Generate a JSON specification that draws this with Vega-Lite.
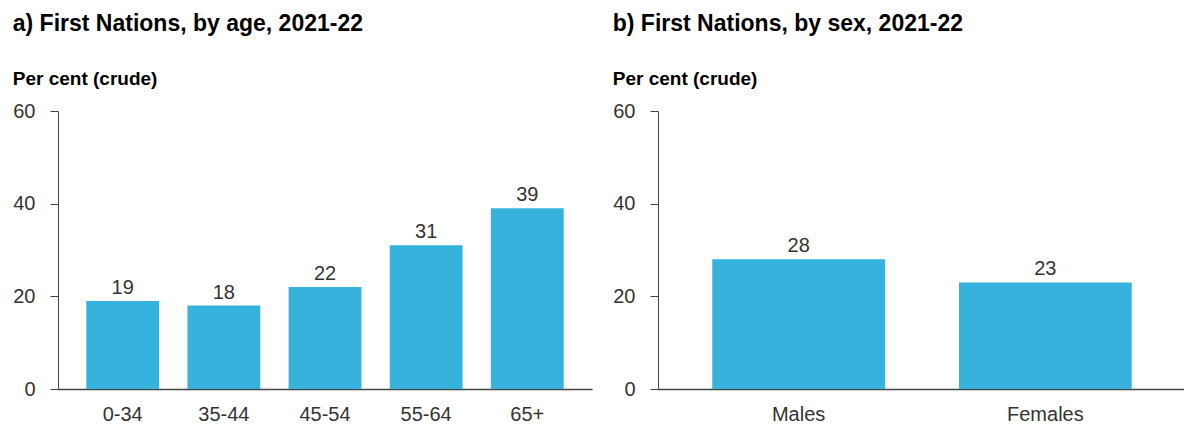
{
  "$schema": "https://vega.github.io/schema/vega-lite/v6.json",
  "background": "white",
  "padding": {"left": 12, "top": 13, "right": 0, "bottom": 0},
  "spacing": 20,
  "config": {
    "font": "Liberation Sans",
    "view": {"stroke": null},
    "axis": {"labelFont": "Liberation Sans", "labelFontSize": 20, "labelColor": "#333333", "domainColor": "#444444", "tickColor": "#444444", "grid": false, "title": null},
    "title": {"font": "Liberation Sans", "fontSize": 23, "fontWeight": "bold", "color": "#000000", "anchor": "start", "frame": "bounds", "subtitleFont": "Liberation Sans", "subtitleFontSize": 19, "subtitleFontWeight": "bold", "subtitleColor": "#000000", "subtitlePadding": 34, "offset": 12}
  },
  "datasets": {
    "age": [
      {"group": "0-34", "value": 19},
      {"group": "35-44", "value": 18},
      {"group": "45-54", "value": 22},
      {"group": "55-64", "value": 31},
      {"group": "65+", "value": 39}
    ],
    "sex": [
      {"group": "Males", "value": 28},
      {"group": "Females", "value": 23}
    ]
  },
  "hconcat": [
    {
      "title": {"text": "a) First Nations, by age, 2021-22", "subtitle": "Per cent (crude)"},
      "width": 534,
      "height": 278,
      "data": {"name": "age"},
      "encoding": {
        "x": {"field": "group", "type": "nominal", "sort": null, "scale": {"paddingInner": 0.28, "paddingOuter": 0.28}, "axis": {"labelAngle": 0, "ticks": false, "labelPadding": 15, "domainWidth": 1.5}},
        "y": {"field": "value", "type": "quantitative", "scale": {"domain": [0, 60]}, "axis": {"values": [0, 20, 40, 60], "tickSize": 8, "labelPadding": 15}}
      },
      "layer": [
        {"mark": {"type": "bar", "color": "#35B3DC"}},
        {"mark": {"type": "text", "baseline": "alphabetic", "dy": -7, "fontSize": 20, "color": "#333333", "font": "Liberation Sans"}, "encoding": {"text": {"field": "value", "type": "quantitative"}}}
      ]
    },
    {
      "title": {"text": "b) First Nations, by sex, 2021-22", "subtitle": "Per cent (crude)"},
      "width": 528,
      "height": 278,
      "data": {"name": "sex"},
      "encoding": {
        "x": {"field": "group", "type": "nominal", "sort": null, "scale": {"paddingInner": 0.3, "paddingOuter": 0.22}, "axis": {"labelAngle": 0, "ticks": false, "labelPadding": 15, "domainWidth": 1.5}},
        "y": {"field": "value", "type": "quantitative", "scale": {"domain": [0, 60]}, "axis": {"values": [0, 20, 40, 60], "tickSize": 8, "labelPadding": 15}}
      },
      "layer": [
        {"mark": {"type": "bar", "color": "#35B3DC"}},
        {"mark": {"type": "text", "baseline": "alphabetic", "dy": -7, "fontSize": 20, "color": "#333333", "font": "Liberation Sans"}, "encoding": {"text": {"field": "value", "type": "quantitative"}}}
      ]
    }
  ]
}
